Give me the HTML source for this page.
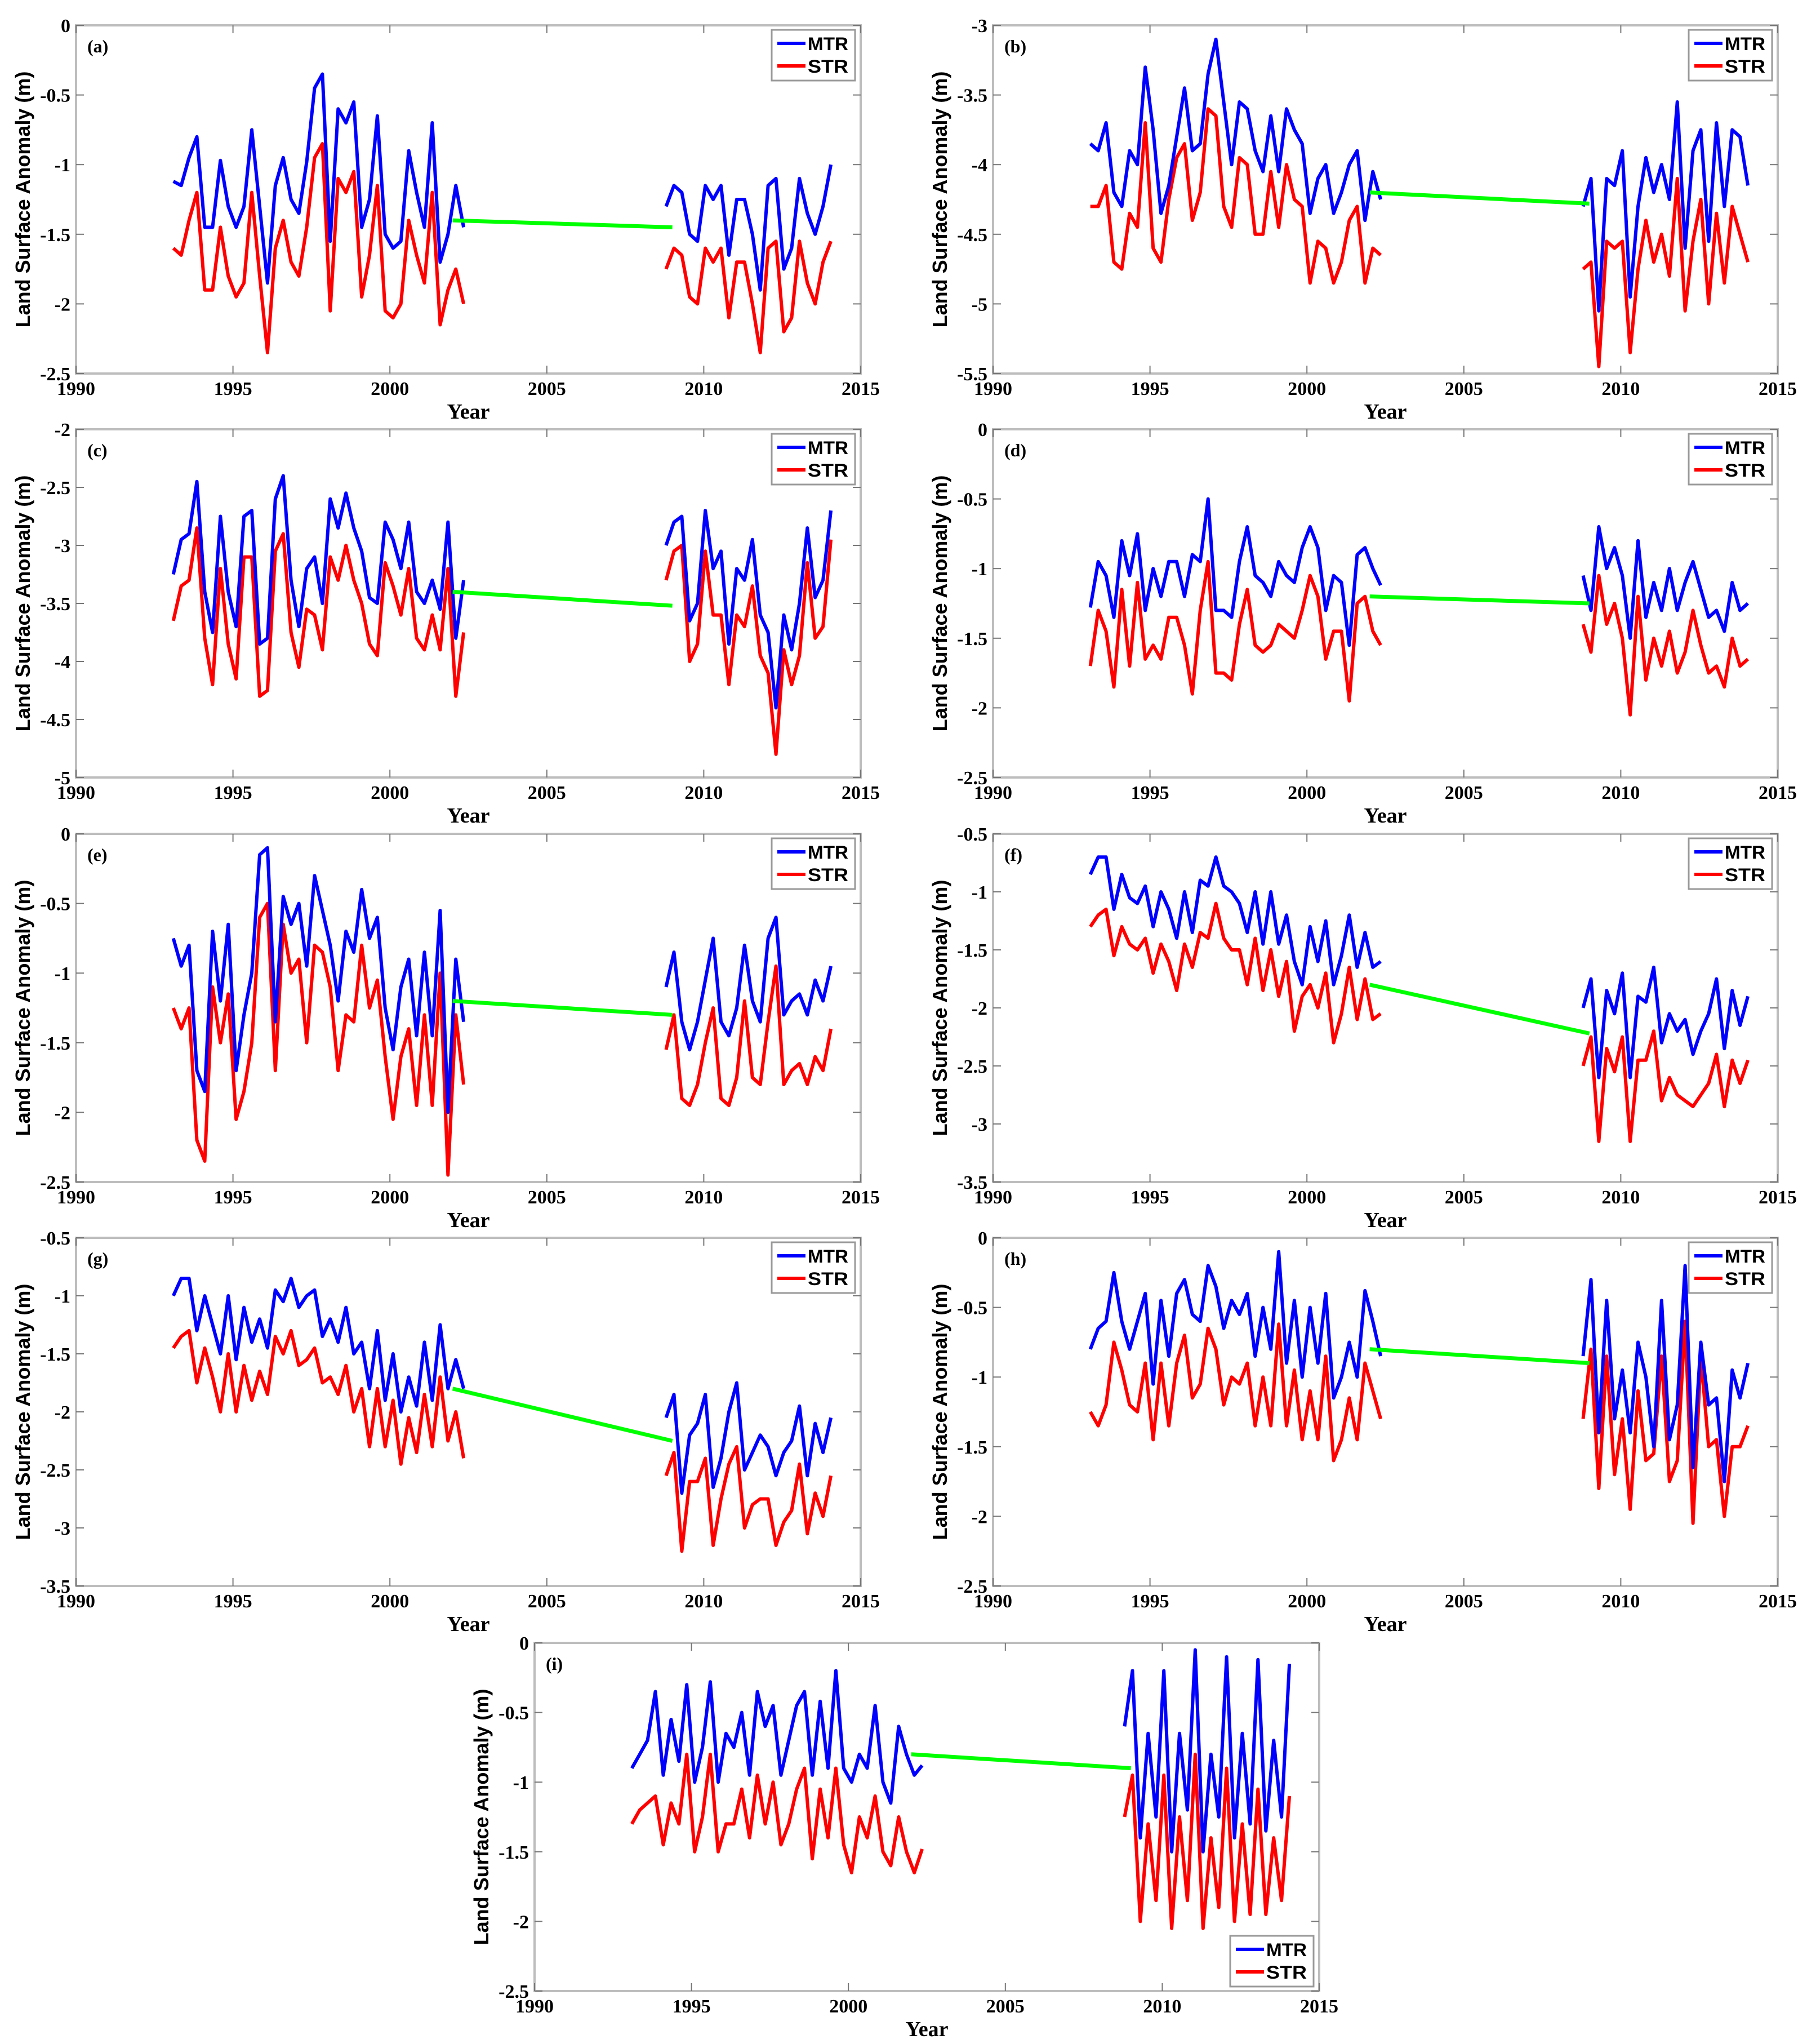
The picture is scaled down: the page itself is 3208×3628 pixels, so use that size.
<!DOCTYPE html>
<html><head><meta charset="utf-8"><style>
html,body{margin:0;padding:0;background:#fff;}
svg{display:block;}
</style></head><body>
<svg id="fig" width="3208" height="3628" viewBox="0 0 3208 3628" xmlns="http://www.w3.org/2000/svg"></svg>
<script>
// ---- Shared axis data ----
const xTicks = [1990, 1995, 2000, 2005, 2010, 2015];
const seg1Start = 1993.1, seg2Start = 2008.8, stepYr = 0.25;

// ---- Panel (a) ----
const aMtr1 = [-1.12,-1.15,-0.95,-0.8,-1.45,-1.45,-0.97,-1.3,-1.45,-1.3,-0.75,-1.3,-1.85,-1.15,-0.95,-1.25,-1.35,-0.98,-0.45,-0.35,-1.55,-0.6,-0.7,-0.55,-1.45,-1.25,-0.65,-1.5,-1.6,-1.55,-0.9,-1.2,-1.45,-0.7,-1.7,-1.5,-1.15,-1.45];
const aStr1 = [-1.6,-1.65,-1.4,-1.2,-1.9,-1.9,-1.45,-1.8,-1.95,-1.85,-1.2,-1.8,-2.35,-1.6,-1.4,-1.7,-1.8,-1.45,-0.95,-0.85,-2.05,-1.1,-1.2,-1.05,-1.95,-1.65,-1.15,-2.05,-2.1,-2.0,-1.4,-1.65,-1.85,-1.2,-2.15,-1.9,-1.75,-2.0];
const aMtr2 = [-1.3,-1.15,-1.2,-1.5,-1.55,-1.15,-1.25,-1.15,-1.65,-1.25,-1.25,-1.5,-1.9,-1.15,-1.1,-1.75,-1.6,-1.1,-1.35,-1.5,-1.3,-1.0];
const aStr2 = [-1.75,-1.6,-1.65,-1.95,-2.0,-1.6,-1.7,-1.6,-2.1,-1.7,-1.7,-2.0,-2.35,-1.6,-1.55,-2.2,-2.1,-1.55,-1.85,-2.0,-1.7,-1.55];
const aTrend = [-1.40, -1.45];
const aYTicks = [0,-0.5,-1,-1.5,-2,-2.5];

// ---- Panel (b) ----
const bMtr1 = [-3.85,-3.9,-3.7,-4.2,-4.3,-3.9,-4.0,-3.3,-3.75,-4.35,-4.15,-3.8,-3.45,-3.9,-3.85,-3.35,-3.1,-3.55,-4.0,-3.55,-3.6,-3.9,-4.05,-3.65,-4.05,-3.6,-3.75,-3.85,-4.35,-4.1,-4.0,-4.35,-4.2,-4.0,-3.9,-4.4,-4.05,-4.25];
const bStr1 = [-4.3,-4.3,-4.15,-4.7,-4.75,-4.35,-4.45,-3.7,-4.6,-4.7,-4.25,-3.95,-3.85,-4.4,-4.2,-3.6,-3.65,-4.3,-4.45,-3.95,-4.0,-4.5,-4.5,-4.05,-4.45,-4.0,-4.25,-4.3,-4.85,-4.55,-4.6,-4.85,-4.7,-4.4,-4.3,-4.85,-4.6,-4.65];
const bMtr2 = [-4.3,-4.1,-5.05,-4.1,-4.15,-3.9,-4.95,-4.3,-3.95,-4.2,-4.0,-4.25,-3.55,-4.6,-3.9,-3.75,-4.55,-3.7,-4.3,-3.75,-3.8,-4.15];
const bStr2 = [-4.75,-4.7,-5.45,-4.55,-4.6,-4.55,-5.35,-4.75,-4.4,-4.7,-4.5,-4.8,-4.1,-5.05,-4.55,-4.25,-5.0,-4.35,-4.85,-4.3,-4.5,-4.7];
const bTrend = [-4.2, -4.28];
const bYTicks = [-3,-3.5,-4,-4.5,-5,-5.5];

// ---- Panel (c) ----
const cMtr1 = [-3.25,-2.95,-2.9,-2.45,-3.4,-3.75,-2.75,-3.4,-3.7,-2.75,-2.7,-3.85,-3.8,-2.6,-2.4,-3.3,-3.7,-3.2,-3.1,-3.5,-2.6,-2.85,-2.55,-2.85,-3.05,-3.45,-3.5,-2.8,-2.95,-3.2,-2.8,-3.4,-3.5,-3.3,-3.55,-2.8,-3.8,-3.3];
const cStr1 = [-3.65,-3.35,-3.3,-2.85,-3.8,-4.2,-3.2,-3.85,-4.15,-3.1,-3.1,-4.3,-4.25,-3.05,-2.9,-3.75,-4.05,-3.55,-3.6,-3.9,-3.1,-3.3,-3.0,-3.3,-3.5,-3.85,-3.95,-3.15,-3.35,-3.6,-3.2,-3.8,-3.9,-3.6,-3.9,-3.2,-4.3,-3.75];
const cMtr2 = [-3.0,-2.8,-2.75,-3.65,-3.5,-2.7,-3.2,-3.05,-3.85,-3.2,-3.3,-2.95,-3.6,-3.75,-4.4,-3.6,-3.9,-3.5,-2.85,-3.45,-3.3,-2.7];
const cStr2 = [-3.3,-3.05,-3.0,-4.0,-3.85,-3.05,-3.6,-3.6,-4.2,-3.6,-3.7,-3.35,-3.95,-4.1,-4.8,-3.9,-4.2,-3.95,-3.15,-3.8,-3.7,-2.95];
const cTrend = [-3.4, -3.52];
const cYTicks = [-2,-2.5,-3,-3.5,-4,-4.5,-5];

// ---- Panel (d) ----
const dMtr1 = [-1.28,-0.95,-1.05,-1.35,-0.8,-1.05,-0.75,-1.3,-1.0,-1.2,-0.95,-0.95,-1.2,-0.9,-0.95,-0.5,-1.3,-1.3,-1.35,-0.95,-0.7,-1.05,-1.1,-1.2,-0.95,-1.05,-1.1,-0.85,-0.7,-0.85,-1.3,-1.05,-1.1,-1.55,-0.9,-0.85,-1.0,-1.12];
const dStr1 = [-1.7,-1.3,-1.45,-1.85,-1.15,-1.7,-1.1,-1.65,-1.55,-1.65,-1.35,-1.35,-1.55,-1.9,-1.3,-0.95,-1.75,-1.75,-1.8,-1.4,-1.15,-1.55,-1.6,-1.55,-1.4,-1.45,-1.5,-1.3,-1.05,-1.2,-1.65,-1.45,-1.45,-1.95,-1.25,-1.2,-1.45,-1.55];
const dMtr2 = [-1.05,-1.3,-0.7,-1.0,-0.85,-1.05,-1.5,-0.8,-1.35,-1.1,-1.3,-1.0,-1.3,-1.1,-0.95,-1.15,-1.35,-1.3,-1.45,-1.1,-1.3,-1.25];
const dStr2 = [-1.4,-1.6,-1.05,-1.4,-1.25,-1.5,-2.05,-1.2,-1.8,-1.5,-1.7,-1.45,-1.75,-1.6,-1.3,-1.55,-1.75,-1.7,-1.85,-1.5,-1.7,-1.65];
const dTrend = [-1.2, -1.25];
const dYTicks = [0,-0.5,-1,-1.5,-2,-2.5];

// ---- Panel (e) ----
const eMtr1 = [-0.75,-0.95,-0.8,-1.7,-1.85,-0.7,-1.2,-0.65,-1.7,-1.3,-1.0,-0.15,-0.1,-1.35,-0.45,-0.65,-0.5,-0.95,-0.3,-0.55,-0.8,-1.2,-0.7,-0.85,-0.4,-0.75,-0.6,-1.25,-1.55,-1.1,-0.9,-1.45,-0.85,-1.45,-0.55,-2.0,-0.9,-1.35];
const eStr1 = [-1.25,-1.4,-1.25,-2.2,-2.35,-1.1,-1.5,-1.15,-2.05,-1.85,-1.5,-0.6,-0.5,-1.7,-0.65,-1.0,-0.9,-1.5,-0.8,-0.85,-1.1,-1.7,-1.3,-1.35,-0.8,-1.25,-1.05,-1.6,-2.05,-1.6,-1.4,-1.95,-1.3,-1.95,-1.0,-2.45,-1.3,-1.8];
const eMtr2 = [-1.1,-0.85,-1.35,-1.55,-1.35,-1.05,-0.75,-1.35,-1.45,-1.25,-0.8,-1.2,-1.35,-0.75,-0.6,-1.3,-1.2,-1.15,-1.3,-1.05,-1.2,-0.95];
const eStr2 = [-1.55,-1.3,-1.9,-1.95,-1.8,-1.5,-1.25,-1.9,-1.95,-1.75,-1.2,-1.75,-1.8,-1.35,-0.95,-1.8,-1.7,-1.65,-1.8,-1.6,-1.7,-1.4];
const eTrend = [-1.2, -1.3];
const eYTicks = [0,-0.5,-1,-1.5,-2,-2.5];

// ---- Panel (f) ----
const fMtr1 = [-0.85,-0.7,-0.7,-1.15,-0.85,-1.05,-1.1,-0.95,-1.3,-1.0,-1.15,-1.4,-1.0,-1.35,-0.9,-0.95,-0.7,-0.95,-1.0,-1.1,-1.35,-1.0,-1.45,-1.0,-1.45,-1.2,-1.6,-1.8,-1.3,-1.6,-1.25,-1.8,-1.55,-1.2,-1.65,-1.35,-1.65,-1.6];
const fStr1 = [-1.3,-1.2,-1.15,-1.55,-1.3,-1.45,-1.5,-1.4,-1.7,-1.45,-1.6,-1.85,-1.45,-1.65,-1.35,-1.4,-1.1,-1.4,-1.5,-1.5,-1.8,-1.4,-1.85,-1.5,-1.9,-1.6,-2.2,-1.9,-1.8,-2.0,-1.7,-2.3,-2.05,-1.65,-2.1,-1.75,-2.1,-2.05];
const fMtr2 = [-2.0,-1.75,-2.6,-1.85,-2.05,-1.7,-2.6,-1.9,-1.95,-1.65,-2.3,-2.05,-2.2,-2.1,-2.4,-2.2,-2.05,-1.75,-2.35,-1.85,-2.15,-1.9];
const fStr2 = [-2.5,-2.25,-3.15,-2.35,-2.55,-2.25,-3.15,-2.45,-2.45,-2.2,-2.8,-2.6,-2.75,-2.8,-2.85,-2.75,-2.65,-2.4,-2.85,-2.45,-2.65,-2.45];
const fTrend = [-1.8, -2.22];
const fYTicks = [-0.5,-1,-1.5,-2,-2.5,-3,-3.5];

// ---- Panel (g) ----
const gMtr1 = [-1.0,-0.85,-0.85,-1.3,-1.0,-1.25,-1.5,-1.0,-1.55,-1.1,-1.4,-1.2,-1.45,-0.95,-1.05,-0.85,-1.1,-1.0,-0.95,-1.35,-1.2,-1.4,-1.1,-1.5,-1.4,-1.8,-1.3,-1.9,-1.5,-2.0,-1.7,-1.95,-1.4,-1.9,-1.25,-1.8,-1.55,-1.8];
const gStr1 = [-1.45,-1.35,-1.3,-1.75,-1.45,-1.7,-2.0,-1.5,-2.0,-1.6,-1.9,-1.65,-1.85,-1.35,-1.5,-1.3,-1.6,-1.55,-1.45,-1.75,-1.7,-1.85,-1.6,-2.0,-1.8,-2.3,-1.8,-2.3,-1.9,-2.45,-2.05,-2.35,-1.85,-2.3,-1.7,-2.25,-2.0,-2.4];
const gMtr2 = [-2.05,-1.85,-2.7,-2.2,-2.1,-1.85,-2.65,-2.4,-2.0,-1.75,-2.5,-2.35,-2.2,-2.3,-2.55,-2.35,-2.25,-1.95,-2.55,-2.1,-2.35,-2.05];
const gStr2 = [-2.55,-2.35,-3.2,-2.6,-2.6,-2.4,-3.15,-2.75,-2.45,-2.3,-3.0,-2.8,-2.75,-2.75,-3.15,-2.95,-2.85,-2.45,-3.05,-2.7,-2.9,-2.55];
const gTrend = [-1.8, -2.25];
const gYTicks = [-0.5,-1,-1.5,-2,-2.5,-3,-3.5];

// ---- Panel (h) ----
const hMtr1 = [-0.8,-0.65,-0.6,-0.25,-0.6,-0.8,-0.6,-0.4,-1.05,-0.45,-0.85,-0.4,-0.3,-0.55,-0.6,-0.2,-0.35,-0.65,-0.45,-0.55,-0.4,-0.85,-0.5,-0.8,-0.1,-0.9,-0.45,-1.0,-0.5,-0.9,-0.4,-1.15,-1.0,-0.75,-1.0,-0.38,-0.6,-0.85];
const hStr1 = [-1.25,-1.35,-1.2,-0.75,-0.95,-1.2,-1.25,-0.9,-1.45,-0.9,-1.35,-0.9,-0.7,-1.15,-1.05,-0.65,-0.8,-1.2,-1.0,-1.05,-0.9,-1.35,-1.0,-1.35,-0.62,-1.35,-0.95,-1.45,-1.1,-1.45,-0.85,-1.6,-1.45,-1.15,-1.45,-0.9,-1.1,-1.3];
const hMtr2 = [-0.85,-0.3,-1.4,-0.45,-1.3,-0.95,-1.4,-0.75,-1.0,-1.5,-0.45,-1.45,-1.2,-0.2,-1.65,-0.75,-1.2,-1.15,-1.75,-0.95,-1.15,-0.9];
const hStr2 = [-1.3,-0.8,-1.8,-0.85,-1.7,-1.3,-1.95,-1.1,-1.6,-1.55,-0.85,-1.75,-1.6,-0.6,-2.05,-0.85,-1.5,-1.45,-2.0,-1.5,-1.5,-1.35];
const hTrend = [-0.8, -0.9];
const hYTicks = [0,-0.5,-1,-1.5,-2,-2.5];

// ---- Panel (i) ----
const iMtr1 = [-0.9,-0.8,-0.7,-0.35,-0.95,-0.55,-0.85,-0.3,-1.0,-0.75,-0.28,-1.0,-0.65,-0.75,-0.5,-0.95,-0.35,-0.6,-0.45,-0.95,-0.7,-0.45,-0.35,-0.95,-0.42,-0.9,-0.2,-0.9,-1.0,-0.8,-0.9,-0.45,-1.0,-1.15,-0.6,-0.8,-0.95,-0.88];
const iStr1 = [-1.3,-1.2,-1.15,-1.1,-1.45,-1.15,-1.3,-0.8,-1.5,-1.25,-0.8,-1.5,-1.3,-1.3,-1.05,-1.4,-0.95,-1.3,-1.0,-1.45,-1.3,-1.05,-0.9,-1.55,-1.05,-1.4,-0.9,-1.45,-1.65,-1.25,-1.4,-1.1,-1.5,-1.6,-1.25,-1.5,-1.65,-1.48];
const iMtr2 = [-0.6,-0.2,-1.4,-0.65,-1.25,-0.2,-1.5,-0.65,-1.2,-0.05,-1.5,-0.8,-1.25,-0.1,-1.4,-0.65,-1.3,-0.12,-1.35,-0.7,-1.25,-0.15];
const iStr2 = [-1.25,-0.95,-2.0,-1.3,-1.85,-0.95,-2.05,-1.25,-1.85,-0.8,-2.05,-1.4,-1.9,-0.9,-2.0,-1.3,-1.95,-1.05,-1.95,-1.4,-1.85,-1.1];
const iTrend = [-0.8, -0.9];
const iYTicks = [0,-0.5,-1,-1.5,-2,-2.5];

const trendYears = [2002.0, 2009.0];

const NS = 'http://www.w3.org/2000/svg';
const svg = document.getElementById('fig');
function mk(tag, attrs, parent) {
  const e = document.createElementNS(NS, tag);
  for (const k in attrs) e.setAttribute(k, attrs[k]);
  (parent || svg).appendChild(e);
  return e;
}

function drawPanel(id, x0, y0, W, H, yTicks, mtr1, str1, mtr2, str2, trend, legendBottom) {
  const g = mk('g', {});
  
  
  const xmin = xTicks[0], xmax = xTicks[xTicks.length - 1];
  const ymax = yTicks[0], ymin = yTicks[yTicks.length - 1];
  const sx = v => x0 + (v - xmin) / (xmax - xmin) * W;
  const sy = v => y0 + (ymax - v) / (ymax - ymin) * H;

  const box = mk('rect', {x: x0, y: y0, width: W, height: H, fill: '#fff', stroke: '#bdbdbd', 'stroke-width': 4}, g);
  
  

  xTicks.forEach(t => {
    const x = sx(t);
    mk('line', {x1: x, y1: y0 + H, x2: x, y2: y0 + H - 14, stroke: '#777', 'stroke-width': 2}, g);
    mk('line', {x1: x, y1: y0, x2: x, y2: y0 + 14, stroke: '#777', 'stroke-width': 2}, g);
    const tx = mk('text', {x: x, y: y0 + H + 38, 'text-anchor': 'middle', 'font-family': 'Liberation Serif, serif', 'font-weight': 'bold', 'font-size': 34}, g);
    tx.textContent = t;
    
    
  });
  yTicks.forEach(t => {
    const y = sy(t);
    mk('line', {x1: x0, y1: y, x2: x0 + 14, y2: y, stroke: '#777', 'stroke-width': 2}, g);
    mk('line', {x1: x0 + W, y1: y, x2: x0 + W - 14, y2: y, stroke: '#777', 'stroke-width': 2}, g);
    const ty = mk('text', {x: x0 - 10, y: y + 12, 'text-anchor': 'end', 'font-family': 'Liberation Serif, serif', 'font-weight': 'bold', 'font-size': 34}, g);
    ty.textContent = String(t);
    
    
  });

  const xt = mk('text', {x: x0 + W / 2, y: y0 + H + 80, 'text-anchor': 'middle', 'font-family': 'Liberation Serif, serif', 'font-weight': 'bold', 'font-size': 38}, g);
  xt.textContent = 'Year';
  
  
  const cy = y0 + H / 2;
  const yt = mk('text', {x: x0 - 82, y: cy, 'text-anchor': 'middle', 'font-family': 'Liberation Sans, sans-serif', 'font-weight': 'bold', 'font-size': 36, transform: 'rotate(-90 ' + (x0 - 82) + ' ' + cy + ')'}, g);
  yt.textContent = 'Land Surface Anomaly (m)';
  
  

  const pl = mk('text', {x: x0 + 20, y: y0 + 48, 'font-family': 'Liberation Serif, serif', 'font-weight': 'bold', 'font-size': 32}, g);
  pl.textContent = '(' + id + ')';
  
  

  function poly(vals, start, color, name) {
    const pts = vals.map((v, i) => sx(start + i * stepYr).toFixed(1) + ',' + sy(v).toFixed(1)).join(' ');
    const p = mk('polyline', {points: pts, fill: 'none', stroke: color, 'stroke-width': 6, 'stroke-linejoin': 'round'}, g);
    
    
  }
  poly(str1, seg1Start, '#ff0000', 'str-series-early');
  poly(mtr1, seg1Start, '#0000ff', 'mtr-series-early');
  poly(str2, seg2Start, '#ff0000', 'str-series-late');
  poly(mtr2, seg2Start, '#0000ff', 'mtr-series-late');
  const tl = mk('line', {x1: sx(trendYears[0]), y1: sy(trend[0]), x2: sx(trendYears[1]), y2: sy(trend[1]), stroke: '#00ff00', 'stroke-width': 7}, g);
  
  

  const lw = 148, lh = 90;
  const lx = x0 + W - lw - 10;
  const ly = legendBottom ? y0 + H - lh - 8 : y0 + 8;
  const lg = mk('g', {}, g);
  
  
  mk('rect', {x: lx, y: ly, width: lw, height: lh, fill: '#fff', stroke: '#999', 'stroke-width': 3}, lg);
  [['MTR', '#0000ff'], ['STR', '#ff0000']].forEach((e, k) => {
    const yy = ly + 24 + k * 40;
    const eg = mk('g', {}, lg);
    
    
    mk('line', {x1: lx + 10, y1: yy, x2: lx + 60, y2: yy, stroke: e[1], 'stroke-width': 6}, eg);
    const t = mk('text', {x: lx + 64, y: yy + 12, 'font-family': 'Liberation Sans, sans-serif', 'font-weight': 'bold', 'font-size': 32, textLength: 72, lengthAdjust: 'spacingAndGlyphs'}, eg);
    t.textContent = e[0];
  });
}

const W = 1393, H = 618;
drawPanel('a', 135, 45, W, H, aYTicks, aMtr1, aStr1, aMtr2, aStr2, aTrend, false);
drawPanel('b', 1763, 45, W, H, bYTicks, bMtr1, bStr1, bMtr2, bStr2, bTrend, false);
drawPanel('c', 135, 762, W, H, cYTicks, cMtr1, cStr1, cMtr2, cStr2, cTrend, false);
drawPanel('d', 1763, 762, W, H, dYTicks, dMtr1, dStr1, dMtr2, dStr2, dTrend, false);
drawPanel('e', 135, 1480, W, H, eYTicks, eMtr1, eStr1, eMtr2, eStr2, eTrend, false);
drawPanel('f', 1763, 1480, W, H, fYTicks, fMtr1, fStr1, fMtr2, fStr2, fTrend, false);
drawPanel('g', 135, 2197, W, H, gYTicks, gMtr1, gStr1, gMtr2, gStr2, gTrend, false);
drawPanel('h', 1763, 2197, W, H, hYTicks, hMtr1, hStr1, hMtr2, hStr2, hTrend, false);
drawPanel('i', 949, 2916, W, H, iYTicks, iMtr1, iStr1, iMtr2, iStr2, iTrend, true);
</script>
</body></html>
